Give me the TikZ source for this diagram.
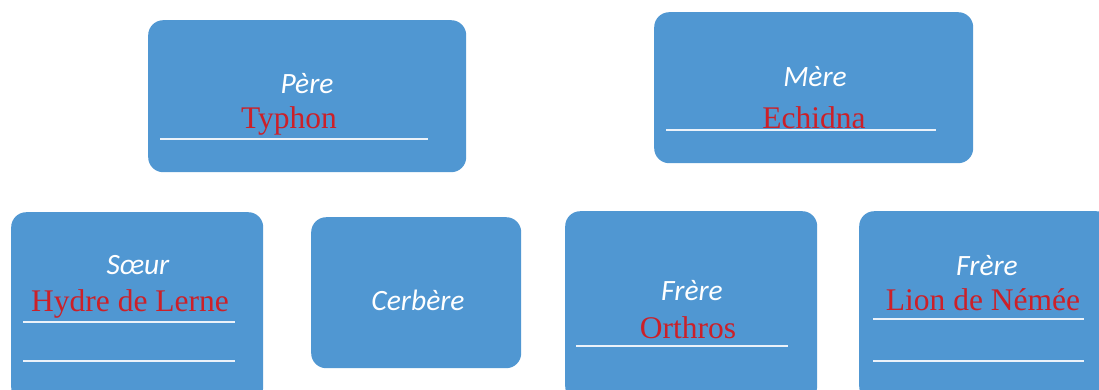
\documentclass[tikz,border=0pt]{standalone}
\usepackage{fontspec}
\setmainfont{Liberation Serif}
\newfontfamily\lblfont{Carlito}
\definecolor{boxblue}{RGB}{80,151,210}
\definecolor{namered}{RGB}{204,32,40}
\definecolor{rulewhite}{RGB}{235,242,250}
\tikzset{
  famb/.style={draw=none, fill=boxblue, rounded corners=15bp, anchor=north west, inner sep=0pt},
  lbl/.style={anchor=base, text=white, font=\lblfont\itshape\fontsize{29.5bp}{31bp}\selectfont, inner sep=0pt},
  nm/.style={anchor=base, text=namered, font=\fontsize{31.5bp}{33bp}\selectfont, inner sep=0pt},
  rulel/.style={draw=rulewhite, line width=1.6bp}
}
\begin{document}
\begin{tikzpicture}[x=1bp,y=-1bp]
\useasboundingbox (0,0) rectangle (1099,389);
\clip (0,0) rectangle (1099,389);
% boxes
\node[famb, minimum width=318bp, minimum height=152bp] (pere) at (148,20) {};
\node[famb, minimum width=319bp, minimum height=151bp] (mere) at (654,12) {};
\node[famb, minimum width=252bp, minimum height=190bp] (soeur) at (11,212) {};
\node[famb, minimum width=210bp, minimum height=151bp] (cerb) at (311,217) {};
\node[famb, minimum width=252bp, minimum height=190bp] (frere1) at (565,211) {};
\node[famb, minimum width=252bp, minimum height=190bp] (frere2) at (859,211) {};
% labels
\node[lbl] (lpere) at (307,93) {Père};
\node[lbl] (lmere) at (815,86) {Mère};
\node[lbl] (lsoeur) at (138,274) {Sœur};
\node[lbl] (lcerb) at (418,310) {Cerbère};
\node[lbl] (lfrere1) at (692,300) {Frère};
\node[lbl] (lfrere2) at (987,275) {Frère};
% names
\node[nm] (npere) at (289,128) {Typhon};
\node[nm] (nmere) at (814,128) {Echidna};
\node[nm] (nsoeur) at (130,311) {Hydre de Lerne};
\node[nm] (nfrere1) at (688,338) {Orthros};
\node[nm] (nfrere2) at (983,310) {Lion de Némée};
% rules
\draw[rulel] (160,139) -- (428,139);
\draw[rulel] (666,130) -- (936,130);
\draw[rulel] (23,322) -- (235,322);
\draw[rulel] (23,361) -- (235,361);
\draw[rulel] (576,346) -- (788,346);
\draw[rulel] (873,319) -- (1084,319);
\draw[rulel] (873,361) -- (1084,361);
\end{tikzpicture}
\end{document}
